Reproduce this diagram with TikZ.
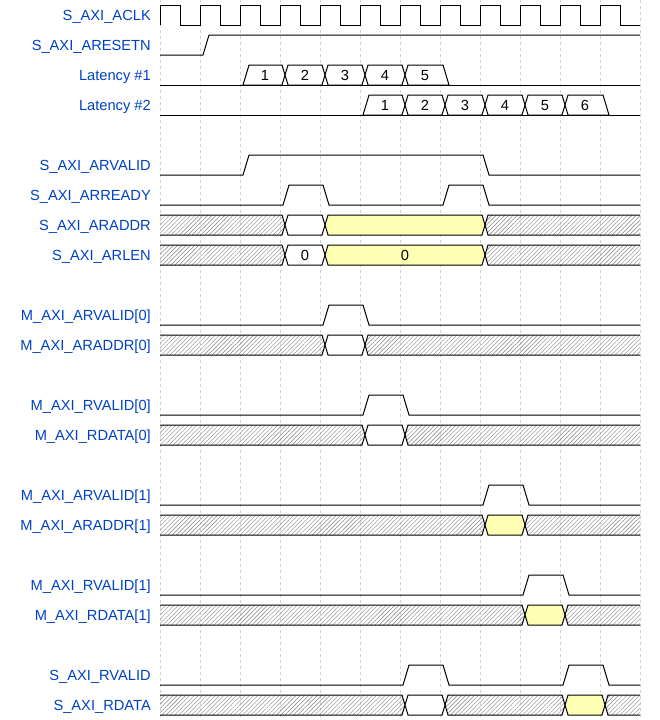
\documentclass[tikz,border=0pt]{standalone}
\usepackage{fontspec}
\setmainfont{Liberation Sans}
\usetikzlibrary{patterns.meta}

\newcommand{\cellshape}[3]% row centre, from, to
{(#2+5,#1) -- (#2+8,#1-10) -- (#3+2,#1-10) -- (#3+5,#1) -- (#3+2,#1+10) -- (#2+8,#1+10) -- cycle}
\newcommand{\firstcell}[3]% row centre, from, to
{(#2+3,#1+10) -- (#2+9,#1-10) -- (#3+2,#1-10) -- (#3+5,#1) -- (#3+2,#1+10) -- cycle}
\newcommand{\lastcell}[3]% row centre, from, to
{(#2+5,#1) -- (#2+8,#1-10) -- (#3+3,#1-10) -- (#3+9,#1+10) -- (#2+8,#1+10) -- cycle}
\newcommand{\pulse}[3]% row centre, rise, fall
{-- (#2+3,#1+10) -- (#2+9,#1-10) -- (#3+3,#1-10) -- (#3+9,#1+10)}

\begin{document}
\begin{tikzpicture}[x=1pt,y=-1pt,
  lbl/.style={anchor=base east,inner sep=0pt,text=sigblue,font=\fontsize{14.67}{16}\selectfont},
  num/.style={anchor=base,inner sep=0pt,font=\fontsize{14.67}{16}\selectfont},
  wave/.style={line width=1pt},
  gridline/.style={color=gray!35,line width=0.6pt,dash pattern=on 3pt off 3pt},
  hatch/.style={wave,pattern={Lines[angle=45,distance=3pt,line width=0.4pt]},pattern color=gray},
  blank/.style={wave,fill=white},
  valid/.style={wave,fill=cellyellow}]

\definecolor{sigblue}{HTML}{0041C4}
\definecolor{cellyellow}{HTML}{FFFFB4}

\useasboundingbox (0,0) rectangle (660,720);

\foreach \k in {0,...,12}
  \draw[gridline] (160+40*\k,0) -- (160+40*\k,720);

% labels
\node[lbl] (aclk) at (151,20.3) {S\_AXI\_ACLK};
\node[lbl] (aresetn) at (151,50.3) {S\_AXI\_ARESETN};
\node[lbl] (lat1) at (151,80.3) {Latency \#1};
\node[lbl] (lat2) at (151,110.3) {Latency \#2};
\node[lbl] (arvalid) at (151,170.3) {S\_AXI\_ARVALID};
\node[lbl] (arready) at (151,200.3) {S\_AXI\_ARREADY};
\node[lbl] (araddr) at (151,230.3) {S\_AXI\_ARADDR};
\node[lbl] (arlen) at (151,260.3) {S\_AXI\_ARLEN};
\node[lbl] (marvalid0) at (151,320.3) {M\_AXI\_ARVALID[0]};
\node[lbl] (maraddr0) at (151,350.3) {M\_AXI\_ARADDR[0]};
\node[lbl] (mrvalid0) at (151,410.3) {M\_AXI\_RVALID[0]};
\node[lbl] (mrdata0) at (151,440.3) {M\_AXI\_RDATA[0]};
\node[lbl] (marvalid1) at (151,500.3) {M\_AXI\_ARVALID[1]};
\node[lbl] (maraddr1) at (151,530.3) {M\_AXI\_ARADDR[1]};
\node[lbl] (mrvalid1) at (151,590.3) {M\_AXI\_RVALID[1]};
\node[lbl] (mrdata1) at (151,620.3) {M\_AXI\_RDATA[1]};
\node[lbl] (srvalid) at (151,680.3) {S\_AXI\_RVALID};
\node[lbl] (srdata) at (151,710.3) {S\_AXI\_RDATA};

% clock and reset
\draw[wave] (160,25) \foreach \k in {0,...,11} {-- ++(0,-20) -- ++(20,0) -- ++(0,20) -- ++(20,0)};
\draw[wave] (160,55) -- (203,55) -- (209,35) -- (640,35);

% latency counters
\draw[wave] (160,85) -- (640,85);
\draw[blank] \firstcell{75}{240}{280};
\foreach \a in {280,320,360}
  \draw[blank] \cellshape{75}{\a}{\a+40};
\draw[blank] \lastcell{75}{400}{440};
\foreach \n in {1,...,5}
  \node[num] (lata\n) at (225+40*\n,80.3) {\n};

\draw[wave] (160,115) -- (640,115);
\draw[blank] \firstcell{105}{360}{400};
\foreach \a in {400,440,480,520}
  \draw[blank] \cellshape{105}{\a}{\a+40};
\draw[blank] \lastcell{105}{560}{600};
\foreach \n in {1,...,6}
  \node[num] (latb\n) at (345+40*\n,110.3) {\n};

% valid / ready
\draw[wave] (160,175) \pulse{165}{240}{480} -- (640,175);
\draw[wave] (160,205) \pulse{195}{280}{320} \pulse{195}{440}{480} -- (640,205);
\draw[wave] (160,325) \pulse{315}{320}{360} -- (640,325);
\draw[wave] (160,415) \pulse{405}{360}{400} -- (640,415);
\draw[wave] (160,505) \pulse{495}{480}{520} -- (640,505);
\draw[wave] (160,595) \pulse{585}{520}{560} -- (640,595);
\draw[wave] (160,685) \pulse{675}{400}{440} \pulse{675}{560}{600} -- (640,685);

% buses
\begin{scope}
\clip (160,0) rectangle (640,720);
\draw[hatch] \cellshape{225}{140}{280};
\draw[blank] \cellshape{225}{280}{320};
\draw[valid] \cellshape{225}{320}{480};
\draw[hatch] \cellshape{225}{480}{660};

\draw[hatch] \cellshape{255}{140}{280};
\draw[blank] \cellshape{255}{280}{320};
\draw[valid] \cellshape{255}{320}{480};
\draw[hatch] \cellshape{255}{480}{660};

\draw[hatch] \cellshape{345}{140}{320};
\draw[blank] \cellshape{345}{320}{360};
\draw[hatch] \cellshape{345}{360}{660};

\draw[hatch] \cellshape{435}{140}{360};
\draw[blank] \cellshape{435}{360}{400};
\draw[hatch] \cellshape{435}{400}{660};

\draw[hatch] \cellshape{525}{140}{480};
\draw[valid] \cellshape{525}{480}{520};
\draw[hatch] \cellshape{525}{520}{660};

\draw[hatch] \cellshape{615}{140}{520};
\draw[valid] \cellshape{615}{520}{560};
\draw[hatch] \cellshape{615}{560}{660};

\draw[hatch] \cellshape{705}{140}{400};
\draw[blank] \cellshape{705}{400}{440};
\draw[hatch] \cellshape{705}{440}{560};
\draw[valid] \cellshape{705}{560}{600};
\draw[hatch] \cellshape{705}{600}{660};
\end{scope}

\node[num] (len0a) at (305,260.3) {0};
\node[num] (len0b) at (405,260.3) {0};

\end{tikzpicture}
\end{document}
